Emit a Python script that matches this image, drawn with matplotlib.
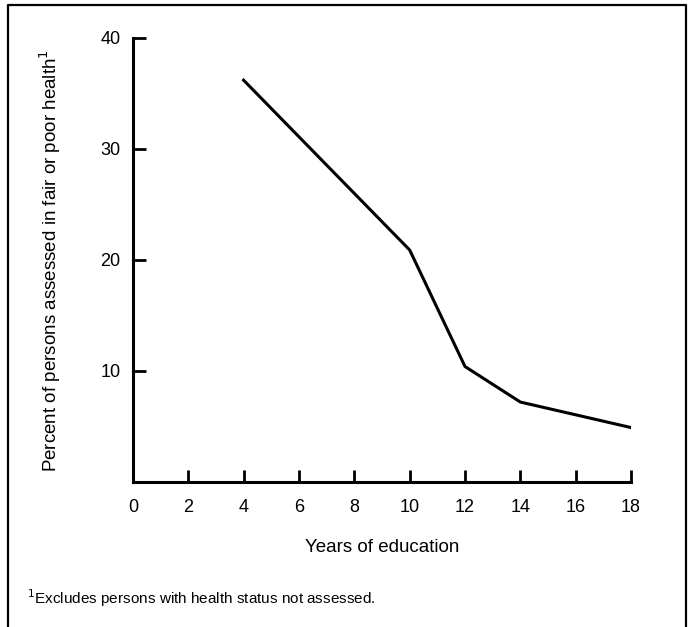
import matplotlib
matplotlib.use("Agg")
import matplotlib.pyplot as plt
from matplotlib.lines import Line2D

years = [4, 10, 12, 14, 18]
percent = [36.2, 20.9, 10.4, 7.2, 4.9]
xticks = [0, 2, 4, 6, 8, 10, 12, 14, 16, 18]
yticks = [10, 20, 30, 40]

plt.rcParams['font.family'] = ['Liberation Sans', 'DejaVu Sans']

fig = plt.figure(figsize=(6.92, 6.27), dpi=100)
ax = fig.add_axes([0.192, 0.2313, 0.72, 0.7081])

ax.plot(years, percent, color='black', lw=2.2, solid_joinstyle='miter')
ax.set_xlim(0, 18)
ax.set_ylim(0, 40)
ax.set_xticks(xticks)
ax.set_yticks(yticks)
for s in ['top', 'right']:
    ax.spines[s].set_visible(False)
for s in ['left', 'bottom']:
    ax.spines[s].set_linewidth(2.2)
ax.tick_params(axis='both', direction='in', length=9, width=2, labelsize=13)
ax.tick_params(axis='x', pad=12)
ax.tick_params(axis='y', pad=9)
ax.set_xlabel('Years of education', fontsize=13.5, labelpad=17)
ax.set_ylabel('Percent of persons assessed in fair or poor health$^{1}$', fontsize=13.5, labelpad=27)

fig.text(27/692, 1 - 598/627, '$^{1}$Excludes persons with health status not assessed.',
         fontsize=11, va='center', ha='left')

# outer frame (open at bottom)
fx0, fx1 = 8/692, 686/692
fy1 = 1 - 5/627
fig.add_artist(Line2D([fx0, fx0, fx1, fx1], [0, fy1, fy1, 0], color='black', lw=1.6,
                      transform=fig.transFigure))

fig.savefig('out.png', dpi=100)
